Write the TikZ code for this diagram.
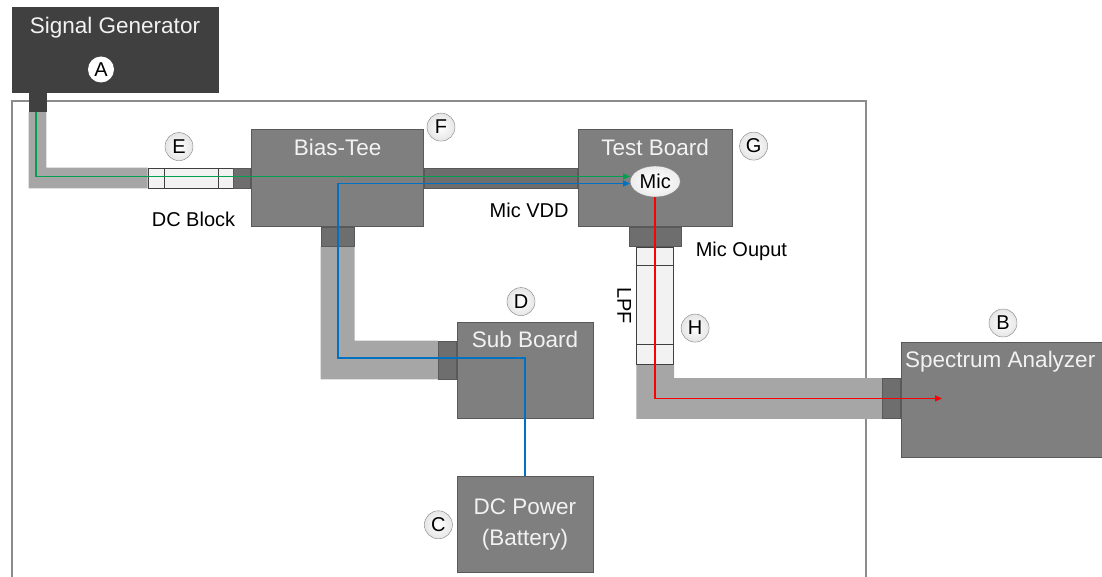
\documentclass[tikz,border=0pt]{standalone}
\usepackage{fontspec}
\setmainfont{Liberation Sans}
\usetikzlibrary{positioning,arrows.meta,shapes.geometric,backgrounds}

\definecolor{genblack}{HTML}{404040}
\definecolor{boxgrey}{HTML}{7F7F7F}
\definecolor{boxline}{HTML}{595959}
\definecolor{portgrey}{HTML}{6E6E6E}
\definecolor{cablegrey}{HTML}{A6A6A6}
\definecolor{filterfill}{HTML}{F2F2F2}
\definecolor{framegrey}{HTML}{8C8C8C}
\definecolor{sigred}{RGB}{255,0,0}
\definecolor{siggreen}{RGB}{0,160,80}
\definecolor{vddblue}{RGB}{0,112,192}

\begin{document}
\begin{tikzpicture}[
  x=1pt,y=-1pt,
  titlefont/.style={font=\fontsize{22.5}{31}\selectfont},
  lblfont/.style={font=\fontsize{20}{24}\selectfont},
  box/.style={draw=boxline,fill=boxgrey,inner sep=0pt,line width=0.8pt},
  port/.style={draw=boxline,fill=portgrey,inner sep=0pt,line width=0.8pt},
  filter/.style={draw=genblack,fill=filterfill,inner sep=0pt,line width=0.8pt},
  cable/.style={fill=cablegrey},
  title/.style={titlefont,text=filterfill,inner sep=0pt},
  lbl/.style={lblfont,inner sep=0pt},
  tagbase/.style={circle,minimum size=28pt,inner sep=0pt,lblfont},
  tag/.style={tagbase,draw=gray,inner color=white,outer color=gray!20},
  sig/.style={line width=1.5pt,-{Triangle[length=7pt,width=6pt]}}
]
\useasboundingbox (0,0) rectangle (1102,577);

% instruments and boards
\node[box,fill=genblack,draw=genblack,minimum width=206pt,minimum height=85pt] (sg) at (115,49.5) {};
\node[title,below=10pt of sg.north] {Signal Generator};
\node[port,fill=genblack,draw=genblack,minimum width=17pt,minimum height=19pt,anchor=north west] (sgport) at ([xshift=17pt]sg.south west) {};

\node[filter,minimum width=85pt,minimum height=20pt] (dcb) at (190.5,178) {};
\node[port,minimum width=17pt,minimum height=20pt,right=0pt of dcb] (btin) {};
\node[box,minimum width=172pt,minimum height=97pt,right=0pt of btin] (bt) {};
\node[title,below=10pt of bt.north] {Bias-Tee};
\node[port,minimum width=153pt,minimum height=20pt,right=0pt of bt] (btout) {};
\node[box,minimum width=154pt,minimum height=97pt,right=0pt of btout] (tb) {};
\node[title,below=10pt of tb.north] {Test Board};
\node[ellipse,draw=gray,inner color=white,outer color=gray!15,minimum width=50pt,minimum height=31pt,inner sep=0pt,lblfont] (mic) at ([yshift=-3.5pt]tb.center) {Mic};
\node[port,minimum width=33pt,minimum height=19pt,below=0pt of bt] (btport) {};

\node[box,minimum width=136pt,minimum height=96pt] (sb) at (525,370) {};
\node[title,below=9pt of sb.north] {Sub Board};
\node[port,minimum width=18pt,minimum height=38pt,anchor=north east] (sbport) at ([yshift=-19pt]sb.north west) {};
\node[box,minimum width=136pt,minimum height=96pt,below=58pt of sb] (dcp) {};
\node[title,align=center] at (dcp.center) {DC Power\\(Battery)};

\node[port,minimum width=52pt,minimum height=19pt,below=0pt of tb] (tbport) {};
\node[filter,minimum width=37pt,minimum height=117pt,below=0pt of tbport] (lpf) {};

\node[box,minimum width=215pt,minimum height=115pt,anchor=north west] (sa) at (901,342) {};
\node[title,anchor=north west] at ([xshift=4pt,yshift=-9pt]sa.north west) {Spectrum Analyzer};
\node[port,minimum width=18pt,minimum height=40pt,anchor=north east] (saport) at ([yshift=-36pt]sa.north west) {};

% filter sections
\draw[genblack,line width=0.8pt] ([xshift=17pt]dcb.north west) -- ([xshift=17pt]dcb.south west)
  ([xshift=-15pt]dcb.north east) -- ([xshift=-15pt]dcb.south east);
\draw[genblack,line width=0.8pt] ([yshift=-19pt]lpf.north west) -- ([yshift=-19pt]lpf.north east)
  ([yshift=20pt]lpf.south west) -- ([yshift=20pt]lpf.south east);

% enclosure and cables
\begin{scope}[on background layer]
\draw[framegrey,line width=1.5pt] (12,590) |- (866,101) -- (866,590);
\fill[cable] (sgport.south west) -- (sgport.south east) -- (sgport.south east |- dcb.north west)
  -- (dcb.north west) -- (dcb.south west) -- (sgport.south west |- dcb.south west) -- cycle;
\fill[cable] (btport.south west) -- (btport.south east) -- (btport.south east |- sbport.north west)
  -- (sbport.north west) -- (sbport.south west) -- (btport.south west |- sbport.south west) -- cycle;
\fill[cable] (lpf.south west) -- (lpf.south east) -- (lpf.south east |- saport.north west)
  -- (saport.north west) -- (saport.south west) -- (lpf.south west |- saport.south west) -- cycle;
\end{scope}

% signal paths
\coordinate (vddturn) at (338,358);
\draw[sig,siggreen] ([xshift=-1.5pt]sgport.south) |- ([yshift=5pt]mic.west);
\draw[sig,vddblue] (dcp.north) |- (vddturn) |- ([yshift=-2pt]mic.west);
\draw[sig,sigred] (mic.south) |- ([xshift=41pt]saport.east);

% labels
\node[lbl,below=23pt of dcb.south,xshift=3pt] {DC Block};
\node[lbl,anchor=north east] at ([xshift=-9pt,yshift=-14pt]btout.south east) {Mic VDD};
\node[lbl,anchor=north west] at ([xshift=14pt,yshift=-15pt]tbport.north east) {Mic Ouput};
\node[lbl,rotate=-90] at ([xshift=-12pt]lpf.west) {LPF};

% tags
\node[tagbase,fill=white,minimum size=26pt] at ([xshift=-14pt,yshift=-20pt]sg.center) {A};
\node[tag] at ([xshift=102pt,yshift=19pt]sa.north west) {B};
\node[tag,left=4pt of dcp.west] {C};
\node[tag] at ([xshift=-4pt,yshift=20pt]sb.north) {D};
\node[tag] at ([xshift=-11.5pt,yshift=21pt]dcb.north) {E};
\node[tag] at ([xshift=17pt,yshift=2pt]bt.north east) {F};
\node[tag] at ([xshift=21pt,yshift=-17pt]tb.north east) {G};
\node[tag] at ([xshift=21pt,yshift=-22.5pt]lpf.east) {H};
\end{tikzpicture}
\end{document}
